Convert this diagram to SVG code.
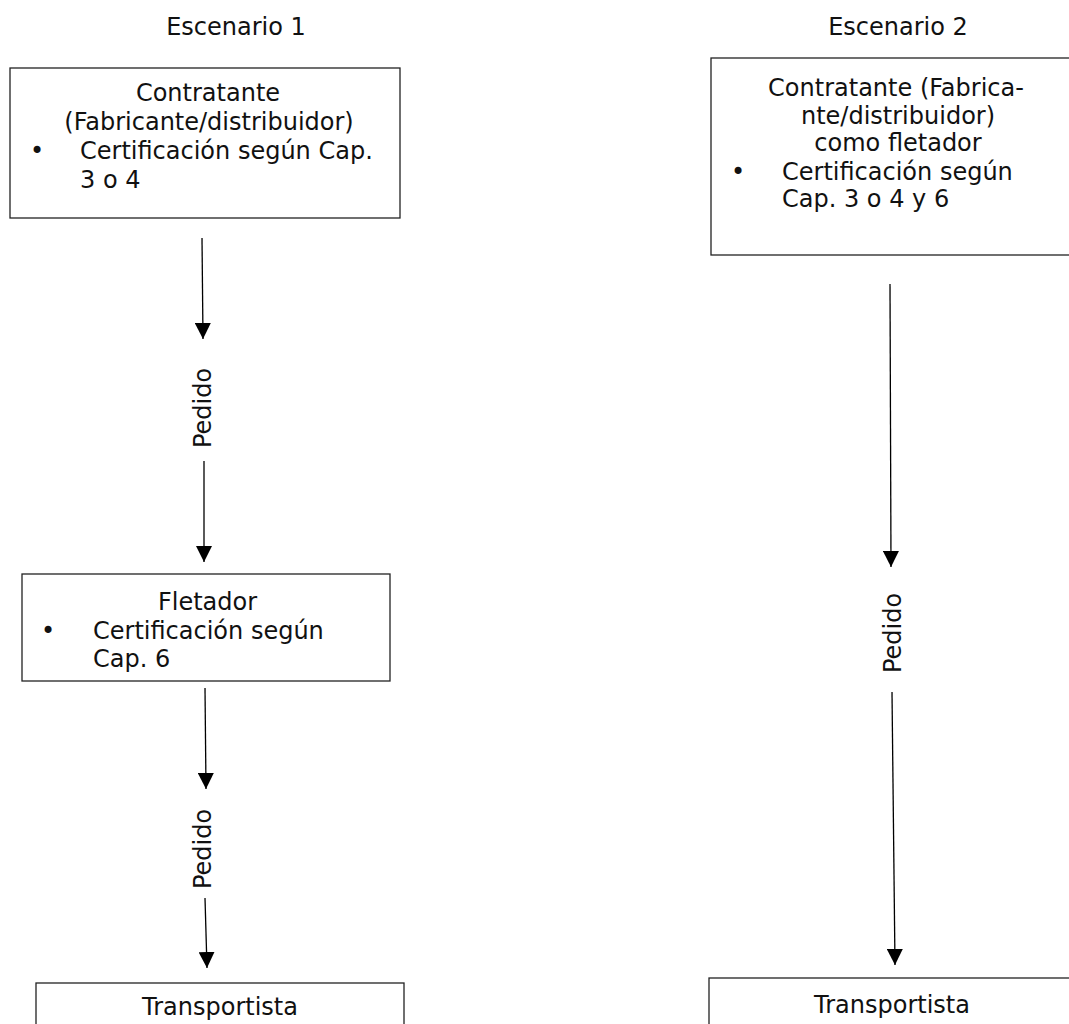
<svg xmlns="http://www.w3.org/2000/svg" width="1069" height="1024" viewBox="0 0 1069 1024">
<defs>
<style>
text{font-family:"DejaVu Sans",Verdana,sans-serif;font-size:24px;fill:#111}
.c{text-anchor:middle}
.box{fill:#fff;stroke:#222;stroke-width:1.3}
.arr{stroke:#000;stroke-width:1.3;fill:none;marker-end:url(#ah)}
</style>
<marker id="ah" markerUnits="userSpaceOnUse" markerWidth="16" markerHeight="16" viewBox="0 0 16 16" refX="16" refY="8" orient="auto">
<path d="M0,0 L16,8 L0,16 z" fill="#000"/>
</marker>
</defs>
<rect width="1069" height="1024" fill="#fff"/>
<text class="c" x="236" y="35">Escenario 1</text>
<text class="c" x="898" y="35">Escenario 2</text>
<g id="connectors">
<line class="arr" x1="202" y1="238" x2="203" y2="339"/>
<line class="arr" x1="204" y1="461" x2="204" y2="562"/>
<line class="arr" x1="205" y1="688" x2="206" y2="789"/>
<line class="arr" x1="205" y1="898" x2="207" y2="968"/>
<line class="arr" x1="890" y1="284" x2="891" y2="567"/>
<line class="arr" x1="892" y1="692" x2="895" y2="965"/>
<text transform="translate(211,408) rotate(-90)" class="c">Pedido</text>
<text transform="translate(211,849) rotate(-90)" class="c">Pedido</text>
<text transform="translate(901,633) rotate(-90)" class="c">Pedido</text>
</g>
<g id="contratante1">
<rect class="box" x="10" y="68" width="390" height="150"/>
<text class="c" x="208" y="101">Contratante</text>
<text class="c" x="209" y="130">(Fabricante/distribuidor)</text>
<text class="c" x="37" y="159">•</text>
<text x="80" y="159">Certificación según Cap.</text>
<text x="80" y="188">3 o 4</text>
</g>
<g id="fletador">
<rect class="box" x="22" y="574" width="368" height="107"/>
<text class="c" x="207.5" y="610">Fletador</text>
<text class="c" x="48" y="639">•</text>
<text x="93" y="639">Certificación según</text>
<text x="93" y="667">Cap. 6</text>
</g>
<g id="transportista1">
<rect class="box" x="36" y="983" width="368" height="60"/>
<text class="c" x="220" y="1015">Transportista</text>
</g>
<g id="contratante2">
<rect class="box" x="711" y="58" width="380" height="197"/>
<text class="c" x="896" y="96">Contratante (Fabrica-</text>
<text class="c" x="898" y="124">nte/distribuidor)</text>
<text class="c" x="898" y="151">como fletador</text>
<text class="c" x="738" y="180">•</text>
<text x="782" y="180">Certificación según</text>
<text x="782" y="207">Cap. 3 o 4 y 6</text>
</g>
<g id="transportista2">
<rect class="box" x="709" y="978" width="380" height="60"/>
<text class="c" x="892" y="1013">Transportista</text>
</g>
</svg>
